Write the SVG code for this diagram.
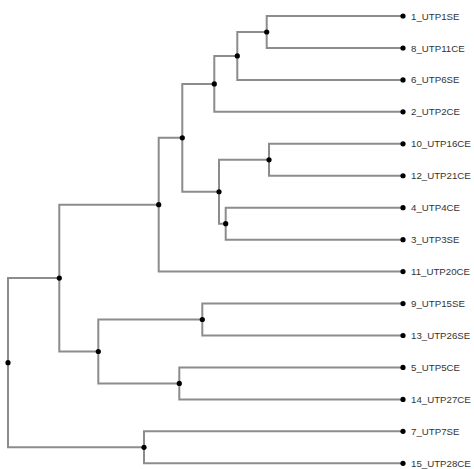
<svg xmlns="http://www.w3.org/2000/svg" width="474" height="469" viewBox="0 0 474 469">
<style>
.e{fill:none;stroke:#8c8c8c;stroke-width:2}
.d{fill:#000}
.t{font-family:"Liberation Sans",Arial,sans-serif;font-size:9.7px;fill:#333}
</style>
<rect width="474" height="469" fill="#fff"/>
<g id="connectors">
<path class="e" d="M266.7,32 V16 H403 M266.7,32 V48 H403"/>
<path class="e" d="M237.3,55.95 V32 H266.7 M237.3,55.95 V79.9 H403"/>
<path class="e" d="M214.3,83.9 V55.95 H237.3 M214.3,83.9 V111.85 H403"/>
<path class="e" d="M269,159.8 V143.8 H403 M269,159.8 V175.75 H403"/>
<path class="e" d="M225.7,223.7 V207.7 H403 M225.7,223.7 V239.65 H403"/>
<path class="e" d="M219,191.75 V159.8 H269 M219,191.75 V223.7 H225.7"/>
<path class="e" d="M182.3,137.8 V83.9 H214.3 M182.3,137.8 V191.75 H219"/>
<path class="e" d="M158.7,204.7 V137.8 H182.3 M158.7,204.7 V271.6 H403"/>
<path class="e" d="M202.3,319.5 V303.55 H403 M202.3,319.5 V335.5 H403"/>
<path class="e" d="M179.3,383.4 V367.45 H403 M179.3,383.4 V399.4 H403"/>
<path class="e" d="M98.3,351.5 V319.5 H202.3 M98.3,351.5 V383.4 H179.3"/>
<path class="e" d="M59.3,278.1 V204.7 H158.7 M59.3,278.1 V351.5 H98.3"/>
<path class="e" d="M144,447.3 V431.35 H403 M144,447.3 V463.3 H403"/>
<path class="e" d="M8,362.7 V278.1 H59.3 M8,362.7 V447.3 H144"/>
</g>
<g id="n_root"><circle class="d" cx="8" cy="362.7" r="2.6"/></g>
<g id="n_A"><circle class="d" cx="59.3" cy="278.1" r="2.6"/></g>
<g id="n_B"><circle class="d" cx="158.7" cy="204.7" r="2.6"/></g>
<g id="n_C"><circle class="d" cx="182.3" cy="137.8" r="2.6"/></g>
<g id="n_D"><circle class="d" cx="214.3" cy="83.9" r="2.6"/></g>
<g id="n_E"><circle class="d" cx="237.3" cy="55.95" r="2.6"/></g>
<g id="n_F"><circle class="d" cx="266.7" cy="32" r="2.6"/></g>
<g id="n_G"><circle class="d" cx="219" cy="191.75" r="2.6"/></g>
<g id="n_H"><circle class="d" cx="269" cy="159.8" r="2.6"/></g>
<g id="n_I"><circle class="d" cx="225.7" cy="223.7" r="2.6"/></g>
<g id="n_J"><circle class="d" cx="202.3" cy="319.5" r="2.6"/></g>
<g id="n_K"><circle class="d" cx="179.3" cy="383.4" r="2.6"/></g>
<g id="n_M"><circle class="d" cx="98.3" cy="351.5" r="2.6"/></g>
<g id="n_N"><circle class="d" cx="144" cy="447.3" r="2.6"/></g>
<g id="leaf_1"><circle class="d" cx="403" cy="16" r="2.6"/><text class="t" x="411" y="19.5">1_UTP1SE</text></g>
<g id="leaf_8"><circle class="d" cx="403" cy="48" r="2.6"/><text class="t" x="411" y="51.5">8_UTP11CE</text></g>
<g id="leaf_6"><circle class="d" cx="403" cy="79.9" r="2.6"/><text class="t" x="411" y="83.4">6_UTP6SE</text></g>
<g id="leaf_2"><circle class="d" cx="403" cy="111.85" r="2.6"/><text class="t" x="411" y="115.35">2_UTP2CE</text></g>
<g id="leaf_10"><circle class="d" cx="403" cy="143.8" r="2.6"/><text class="t" x="411" y="147.3">10_UTP16CE</text></g>
<g id="leaf_12"><circle class="d" cx="403" cy="175.75" r="2.6"/><text class="t" x="411" y="179.25">12_UTP21CE</text></g>
<g id="leaf_4"><circle class="d" cx="403" cy="207.7" r="2.6"/><text class="t" x="411" y="211.2">4_UTP4CE</text></g>
<g id="leaf_3"><circle class="d" cx="403" cy="239.65" r="2.6"/><text class="t" x="411" y="243.15">3_UTP3SE</text></g>
<g id="leaf_11"><circle class="d" cx="403" cy="271.6" r="2.6"/><text class="t" x="411" y="275.1">11_UTP20CE</text></g>
<g id="leaf_9"><circle class="d" cx="403" cy="303.55" r="2.6"/><text class="t" x="411" y="307.05">9_UTP15SE</text></g>
<g id="leaf_13"><circle class="d" cx="403" cy="335.5" r="2.6"/><text class="t" x="411" y="339">13_UTP26SE</text></g>
<g id="leaf_5"><circle class="d" cx="403" cy="367.45" r="2.6"/><text class="t" x="411" y="370.95">5_UTP5CE</text></g>
<g id="leaf_14"><circle class="d" cx="403" cy="399.4" r="2.6"/><text class="t" x="411" y="402.9">14_UTP27CE</text></g>
<g id="leaf_7"><circle class="d" cx="403" cy="431.35" r="2.6"/><text class="t" x="411" y="434.85">7_UTP7SE</text></g>
<g id="leaf_15"><circle class="d" cx="403" cy="463.3" r="2.6"/><text class="t" x="411" y="466.8">15_UTP28CE</text></g>
</svg>
